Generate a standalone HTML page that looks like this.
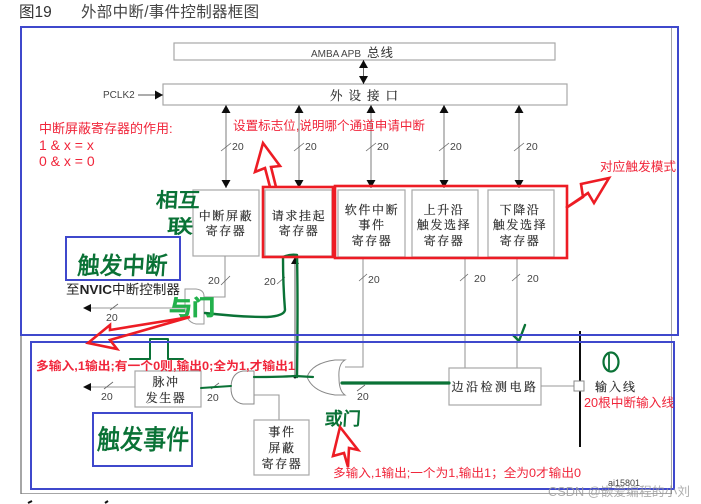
<!DOCTYPE html>
<html lang="zh">
<head>
<meta charset="utf-8">
<title>外部中断/事件控制器框图</title>
<style>
html,body{margin:0;padding:0;background:#fff;width:701px;height:504px;overflow:hidden}
svg{display:block}
text{font-family:"Liberation Sans","Noto Sans CJK SC",sans-serif}
.g{fill:#444;font-size:10.5px}
.c{fill:#2a2a2a;stroke:#2a2a2a;stroke-width:.18;font-size:12px;font-family:"Noto Serif CJK SC","Liberation Serif",serif;text-anchor:middle;letter-spacing:1.6px}
.r{fill:#f0253a;font-size:12.7px}
.hw{fill:#0a7236;font-family:"WenQuanYi Zen Hei","Noto Sans CJK SC",sans-serif;stroke:#0a7236;stroke-width:.7}
.box{fill:#fff;stroke:#a8a8a8;stroke-width:1.2}
.ln{stroke:#9a9a9a;stroke-width:1.1;fill:none}
.sl{stroke:#666;stroke-width:.8;fill:none}
.gr{stroke:#0a7236;fill:none;stroke-linecap:round;stroke-linejoin:round}
.blue{fill:none;stroke:#3f48cc;stroke-width:2}
.red{fill:none;stroke:#ed1c24;stroke-width:2.6}
</style>
</head>
<body>
<svg width="701" height="504" viewBox="0 0 701 504" xmlns="http://www.w3.org/2000/svg">
<defs>
<marker id="a" markerWidth="9" markerHeight="9" refX="8" refY="4.500" orient="auto-start-reverse" markerUnits="userSpaceOnUse"><path d="M0 0L8 4.500L0 9Z" fill="#111"/></marker>
<filter id="b" x="0" y="0" width="100%" height="100%"><feGaussianBlur stdDeviation="0.3"/></filter>
</defs>
<rect width="701" height="504" fill="#fff"/>

<g filter="url(#b)">
<text x="19" y="17" style="font-size:15.500px" fill="#333">图19</text>
<text x="81" y="17" style="font-size:15.500px;letter-spacing:.3px" fill="#444">外部中断/事件控制器框图</text>

<!-- outer grey frame -->
<rect x="21" y="27" width="651" height="467" fill="none" stroke="#777" stroke-width="1.3"/>

<!-- buses -->
<rect class="box" x="174" y="43" width="381" height="17"/>
<text x="311" y="57" class="g" style="font-size:10px">AMBA APB</text>
<text x="367" y="57" style="font-size:12.500px;letter-spacing:1px" fill="#333">总线</text>
<rect class="box" x="163" y="84" width="404" height="21"/>
<text x="330" y="100" style="font-size:12.500px;letter-spacing:6px;font-family:'Noto Serif CJK SC',serif;stroke:#333;stroke-width:.18" fill="#333">外设接口</text>
<text x="103" y="98" class="g" style="font-size:10px">PCLK2</text>
<line x1="138" y1="95" x2="163" y2="95" stroke="#222" stroke-width=".8" marker-end="url(#a)"/>
<line x1="363.500" y1="60" x2="363.500" y2="84" stroke="#666" stroke-width="1" marker-start="url(#a)" marker-end="url(#a)"/>

<!-- vertical bus lines -->
<g stroke="#888" stroke-width="1.1">
<line x1="226" y1="105" x2="226" y2="188" marker-start="url(#a)" marker-end="url(#a)"/>
<line x1="299" y1="105" x2="299" y2="188" marker-start="url(#a)" marker-end="url(#a)"/>
<line x1="371" y1="105" x2="371" y2="188" marker-start="url(#a)" marker-end="url(#a)"/>
<line x1="444" y1="105" x2="444" y2="188" marker-start="url(#a)" marker-end="url(#a)"/>
<line x1="519" y1="105" x2="519" y2="188" marker-start="url(#a)" marker-end="url(#a)"/>
</g>
<g class="sl">
<line x1="221" y1="151" x2="231" y2="143"/><line x1="294" y1="151" x2="304" y2="143"/>
<line x1="366" y1="151" x2="376" y2="143"/><line x1="439" y1="151" x2="449" y2="143"/>
<line x1="514" y1="151" x2="524" y2="143"/>
</g>
<g class="g">
<text x="232" y="150">20</text><text x="305" y="150">20</text><text x="377" y="150">20</text>
<text x="450" y="150">20</text><text x="526" y="150">20</text>
</g>

<!-- register boxes -->
<rect class="box" x="193" y="190" width="66" height="66"/>
<text class="c" x="226" y="220">中断屏蔽</text><text class="c" x="226" y="235">寄存器</text>
<rect class="box" x="265" y="190" width="67" height="66"/>
<text class="c" x="299" y="220">请求挂起</text><text class="c" x="299" y="235">寄存器</text>
<rect class="box" x="338" y="190" width="67" height="67"/>
<text class="c" x="372" y="214">软件中断</text><text class="c" x="372" y="229">事件</text><text class="c" x="372" y="245">寄存器</text>
<rect class="box" x="412" y="190" width="66" height="67"/>
<text class="c" x="444" y="214">上升沿</text><text class="c" x="444" y="229">触发选择</text><text class="c" x="444" y="245">寄存器</text>
<rect class="box" x="488" y="190" width="66" height="67"/>
<text class="c" x="520" y="214">下降沿</text><text class="c" x="520" y="229">触发选择</text><text class="c" x="520" y="245">寄存器</text>

<!-- lower lines -->
<path class="ln" d="M225 256V297H204"/>
<path class="ln" d="M185 308H88"/>
<path d="M83 308L91 304V312Z" fill="#111"/>
<line class="sl" x1="110" y1="310" x2="118" y2="304"/>
<text class="g" x="106" y="321">20</text>
<line class="sl" x1="221" y1="285" x2="230" y2="276"/>
<text class="g" x="208" y="284">20</text>
<line class="sl" x1="277" y1="284" x2="285" y2="277"/>
<text class="g" x="264" y="285">20</text>
<text x="66" y="294" style="font-size:13px" fill="#222" textLength="114" lengthAdjust="spacingAndGlyphs">至<tspan style="font-weight:bold">NVIC</tspan>中断控制器</text>
<line x1="295" y1="377" x2="295" y2="258" stroke="#777" stroke-width="1.2"/>
<path d="M295 257L291 264H299Z" fill="#111"/>
<circle cx="295" cy="377" r="1.500" fill="#111"/>

<path d="M185 289H196Q204 290 204 296V324H196Q185 322 185 306Z" fill="#fff" stroke="#999" stroke-width="1"/>

<!-- pulse generator -->
<rect class="box" x="135" y="371" width="66" height="36"/>
<text class="c" x="166" y="386">脉冲</text><text class="c" x="166" y="402">发生器</text>
<line class="ln" x1="135" y1="387" x2="88" y2="387"/>
<path d="M83 387L91 383V391Z" fill="#111"/>
<line class="sl" x1="104" y1="389" x2="113" y2="382"/>
<text class="g" x="101" y="400">20</text>
<line class="sl" x1="211" y1="389" x2="219" y2="383"/>
<text class="g" x="207" y="401">20</text>

<path d="M254 371H243Q231 373 231 388Q231 402 243 404H254Z" fill="#fff" stroke="#888" stroke-width="1"/>
<path class="ln" d="M254 395H279V420"/>
<rect class="box" x="254" y="420" width="55" height="55"/>
<text class="c" x="282" y="436">事件</text><text class="c" x="282" y="452">屏蔽</text><text class="c" x="282" y="468">寄存器</text>

<!-- OR gate -->
<path d="M307 377Q312 363 335 360H345Q338 364 339 378Q339 391 345 395H335Q313 392 307 377Z" fill="#fff" stroke="#888" stroke-width="1"/>
<path class="ln" d="M345 367H363V335"/>
<line class="ln" x1="363" y1="258" x2="363" y2="335"/>
<line class="sl" x1="359" y1="281" x2="367" y2="274"/>
<text class="g" x="368" y="283">20</text>
<line class="sl" x1="357" y1="391" x2="365" y2="385"/>
<text class="g" x="357" y="400">20</text>

<!-- edge detection -->
<path class="ln" d="M465 258V368M517 258V368"/>
<line class="sl" x1="460" y1="281" x2="468" y2="274"/>
<line class="sl" x1="512" y1="281" x2="520" y2="274"/>
<text class="g" x="474" y="282">20</text>
<text class="g" x="527" y="282">20</text>
<rect class="box" x="449" y="368" width="92" height="37"/>
<text class="c" x="495" y="391" style="letter-spacing:2.500px">边沿检测电路</text>
<line class="ln" x1="541" y1="386" x2="574" y2="386"/>
<line x1="580" y1="331" x2="580" y2="447" stroke="#111" stroke-width="2"/>
<rect x="574" y="381" width="10" height="10" fill="#fff" stroke="#888"/>
<text x="595" y="391" class="c" style="text-anchor:start;letter-spacing:2px">输入线</text>
<text x="608" y="486" class="g" style="font-size:9px">ai15801</text>
</g>

<!-- green annotations -->
<path class="gr" stroke-width="2.400" d="M205 313Q240 317 267 317Q284 316 285 310Q283 285 283 257Q290 254 297 255Q298 300 297 377"/>
<path class="gr" stroke-width="2" d="M201 388L231 386"/>
<path class="gr" stroke-width="2.200" d="M254 377Q280 377 295 376L313 377"/>
<path d="M130 359H150V339H168V359H183" class="gr" stroke-width="2" stroke-linecap="butt"/>
<path class="gr" stroke-width="3.200" stroke-linecap="butt" d="M342 383H449"/>
<path class="gr" stroke-width="2.400" d="M513 335L519 341L525 325"/>
<ellipse cx="611" cy="362" rx="7.500" ry="9.500" fill="none" stroke="#0a7236" stroke-width="2.200"/>
<line x1="609" y1="354" x2="609" y2="370" stroke="#0a7236" stroke-width="1.800"/>
<g transform="skewX(-4)">
<text class="hw" x="170" y="207" style="font-size:20px" textLength="44" lengthAdjust="spacingAndGlyphs">相互</text>
<text class="hw" x="183" y="233" style="font-size:19px" textLength="26" lengthAdjust="spacingAndGlyphs">联</text>
<text class="hw" x="96" y="274" style="font-size:24px" textLength="90" lengthAdjust="spacingAndGlyphs">触发中断</text>
<text class="hw" x="128" y="449" style="font-size:27px" textLength="92" lengthAdjust="spacingAndGlyphs">触发事件</text>
<text class="hw" x="354" y="425" style="font-size:18px" textLength="36" lengthAdjust="spacingAndGlyphs">或门</text>
</g>
<text x="169" y="315" style="font-size:21px;font-weight:bold;font-family:'WenQuanYi Zen Hei','Noto Sans CJK SC',sans-serif;stroke:#22b14c;stroke-width:.8" fill="#22b14c" textLength="46" lengthAdjust="spacingAndGlyphs">与门</text>

<!-- blue frames -->
<rect class="blue" x="21" y="27" width="657" height="308"/>
<rect class="blue" x="31" y="342" width="643" height="147"/>
<rect class="blue" x="66" y="237" width="114" height="43"/>
<rect class="blue" x="93" y="413" width="99" height="53"/>

<!-- red frames and arrows -->
<rect class="red" x="263" y="187" width="70" height="70"/>
<rect class="red" x="335" y="186" width="232" height="72"/>
<path class="red" d="M270 187L265 168L255 172L263 143L280 166L271 167L276 187" stroke-linejoin="miter"/>
<path class="red" d="M566 208L583 197L581 184L609 178L594 203L588 193Z"/>
<path class="red" d="M190 317L110 330L110 325L88 343L117 349L110 340Z"/>
<path class="red" d="M340 427L358 450L349 448L348 467L344 453L333 456Z"/>

<!-- red notes -->
<text class="r" x="39" y="133" style="font-size:13px">中断屏蔽寄存器的作用:</text>
<text class="r" x="39" y="150" style="font-size:14px">1 &amp; x = x</text>
<text class="r" x="39" y="166" style="font-size:14px">0 &amp; x = 0</text>
<text class="r" x="233" y="130" textLength="192" lengthAdjust="spacingAndGlyphs">设置标志位,说明哪个通道申请中断</text>
<text class="r" x="600" y="171">对应触发模式</text>
<text class="r" x="36" y="370" style="font-weight:bold;font-size:12px" textLength="259" lengthAdjust="spacingAndGlyphs">多输入,1输出;有一个0则,输出0;全为1,才输出1</text>
<text class="r" x="333" y="477" style="font-size:12px" textLength="248" lengthAdjust="spacingAndGlyphs">多输入,1输出;一个为1,输出1；全为0才输出0</text>
<text class="r" x="584" y="407" textLength="90" lengthAdjust="spacingAndGlyphs">20根中断输入线</text>

<!-- watermark -->
<text x="548" y="496" style="font-size:12.500px" fill="#9a9a9a" opacity=".8" textLength="142" lengthAdjust="spacingAndGlyphs">CSDN @嵌爱编程的小刘</text>
<path d="M28 503L32 501M105 503L108 501" stroke="#111" stroke-width="2"/>
</svg>
</body>
</html>
